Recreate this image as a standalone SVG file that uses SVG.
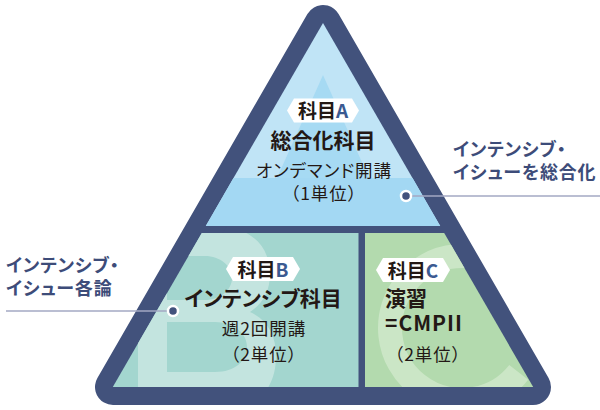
<svg xmlns="http://www.w3.org/2000/svg" width="600" height="410" viewBox="0 0 600 410">
<defs>
<style>
.t{font-family:"Noto Sans CJK JP","Noto Sans",sans-serif;font-feature-settings:"palt";fill:#231815}
.r{font-weight:400;font-size:17.5px;letter-spacing:1px}
.h{font-size:21px;font-weight:700}
.tg{font-size:19px;font-weight:700}
.blue{fill:#3b5a91}
.ann{font-size:18px;font-weight:700;fill:#3d4c79;letter-spacing:0.8px}
.tag{fill:#ffffff}
.ln{stroke:#a3a9c3;stroke-width:1.5;fill:none}
.dot{fill:#42527c;stroke:#ffffff;stroke-width:2.5}
</style>
<clipPath id="clipB"><polygon points="201.8,233 358.5,233 358.5,387 112.8,387"/></clipPath>
<clipPath id="clipC"><polygon points="365,233 444.2,233 533.2,387 365,387"/></clipPath>
</defs>
<rect width="600" height="410" fill="#ffffff"/>
<g id="frame">
<polygon points="323,23 113,387 533,387" fill="#42527c" stroke="#42527c" stroke-width="36" stroke-linejoin="round"/>
</g>
<g id="node-A">
<polygon points="323,23 205.8,226 440.2,226" fill="#c0e4f6"/>
<polygon points="323,75 277,178 369,178" fill="#a6daf3"/>
<polygon points="233.5,178 412.5,178 440.2,226 205.8,226" fill="#a3d8f3"/>
<path class="tag" d="M287,110.5 L294,98.5 H352 L359,110.5 L352,122.5 H294 Z"/>
<text class="t tg" x="323" y="117.5" text-anchor="middle">科目<tspan class="blue">A</tspan></text>
<text class="t h" x="323" y="148" text-anchor="middle">総合化科目</text>
<text class="t r" x="324" y="177" text-anchor="middle">オンデマンド開講</text>
<text class="t r" x="324" y="200" text-anchor="middle">（1単位）</text>
</g>
<g id="node-B">
<polygon points="201.8,233 358.5,233 358.5,387 112.8,387" fill="#a3d6cf"/>
<path clip-path="url(#clipB)" fill="#c3e4df" fill-rule="evenodd" d="M138,226 H215 C250,226 270,246 270,274 C270,292 262,304 250,312 C268,320 276,336 276,356 C276,390 256,410 220,410 H138 Z M167,256 H205 C220,256 232,266 232,278 C232,290 220,300 205,300 H167 Z M167,322 H215 C235,322 247,334 247,347 C247,361 235,372 215,372 H167 Z"/>
<path class="tag" d="M226,269 L233,257 H293 L300,269 L293,281 H233 Z"/>
<text class="t tg" x="263" y="276.5" text-anchor="middle">科目<tspan class="blue">B</tspan></text>
<text class="t h" x="263" y="306" text-anchor="middle">インテンシブ科目</text>
<text class="t r" x="264" y="335" text-anchor="middle">週2回開講</text>
<text class="t r" x="264" y="361" text-anchor="middle">（2単位）</text>
</g>
<g id="node-C">
<polygon points="365,233 444.2,233 533.2,387 365,387" fill="#b3daae"/>
<path clip-path="url(#clipC)" d="M518.7,372.3 A72,72 0 1 1 508.3,272.8" fill="none" stroke="#cbe6c6" stroke-width="24"/>
<path class="tag" d="M376,270 L383,258 H443 L450,270 L443,282 H383 Z"/>
<text class="t tg" x="413" y="277.5" text-anchor="middle">科目<tspan class="blue">C</tspan></text>
<text class="t h" x="385" y="306">演習</text>
<text class="t h" x="385" y="331" font-size="20" letter-spacing="1">=CMPII</text>
<text class="t r" x="428" y="361" text-anchor="middle">（2単位）</text>
</g>
<g id="annot-right">
<text class="t ann" x="453" y="156">インテンシブ・</text>
<text class="t ann" x="453" y="178.5">イシューを総合化</text>
</g>
<g id="annot-left">
<text class="t ann" x="6" y="272">インテンシブ・</text>
<text class="t ann" x="6" y="294.5">イシュー各論</text>
</g>
<g id="connectors">
<line class="ln" x1="406" y1="196" x2="600" y2="196"/>
<circle class="dot" cx="406" cy="196" r="5"/>
<line class="ln" x1="6" y1="311" x2="173" y2="311"/>
<circle class="dot" cx="173" cy="311" r="5"/>
</g>
</svg>
